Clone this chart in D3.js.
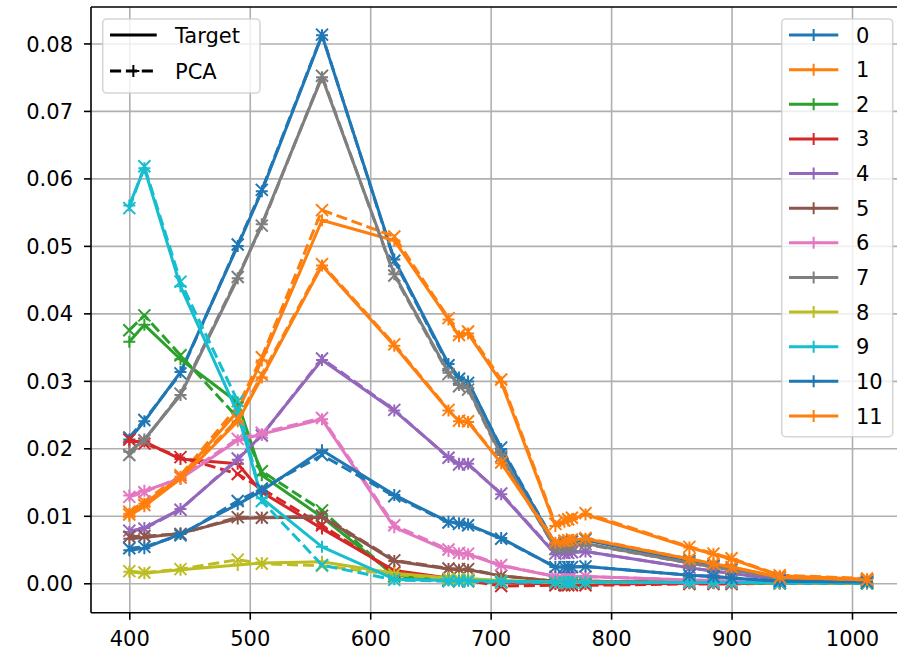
<!DOCTYPE html>
<html>
<head>
<meta charset="utf-8">
<script src="https://cdn.jsdelivr.net/npm/d3@7"></script>
<style>
  body { margin: 0; background: #fff; }
  svg { display: block; }
  text { font-family: "DejaVu Sans", sans-serif; }
</style>
</head>
<body>
<svg id="chart" width="897" height="652"></svg>
<script>
// Band centre wavelengths (nm)
const wavelengths = [400, 412.5, 442.5, 490, 510, 560, 620, 665, 673.75, 681.25, 708.75,
                     753.75, 761.25, 764.375, 767.5, 778.75, 865, 885, 900, 940, 1012.5];

const seriesLabels = ["0", "1", "2", "3", "4", "5", "6", "7", "8", "9", "10", "11"];
const seriesColors = ["#1f77b4", "#ff7f0e", "#2ca02c", "#d62728", "#9467bd", "#8c564b",
                      "#e377c2", "#7f7f7f", "#bcbd22", "#17becf", "#1f77b4", "#ff7f0e"];

const xTicks = [400, 500, 600, 700, 800, 900, 1000];
const yTicks = [0.00, 0.01, 0.02, 0.03, 0.04, 0.05, 0.06, 0.07, 0.08];

// Target spectra
const target0  = [0.0213, 0.0240, 0.0313, 0.0500, 0.0581, 0.0812, 0.0480, 0.0325, 0.0305, 0.0299, 0.0199, 0.0057, 0.0059, 0.0060, 0.0061, 0.0064, 0.0033, 0.0026, 0.0021, 0.0009, 0.0005];
const target1  = [0.0103, 0.0118, 0.0158, 0.0255, 0.0330, 0.0538, 0.0508, 0.0391, 0.0366, 0.0370, 0.0298, 0.0085, 0.0091, 0.0093, 0.0095, 0.0102, 0.0053, 0.0043, 0.0036, 0.0011, 0.0006];
const target2  = [0.0358, 0.0383, 0.0332, 0.0268, 0.0160, 0.0098, 0.0012, 0.0005, 0.0004, 0.0004, 0.0002, 0.0001, 0.0001, 0.0001, 0.0001, 0.0001, 0.0001, 0.0001, 0.0001, 0.0000, 0.0000];
const target3  = [0.0210, 0.0210, 0.0184, 0.0177, 0.0135, 0.0081, 0.0019, 0.0008, 0.0006, 0.0006, 0.0001, -0.0001, -0.0001, -0.0001, -0.0001, -0.0001, 0.0000, 0.0000, 0.0000, 0.0000, 0.0000];
const target4  = [0.0076, 0.0082, 0.0110, 0.0183, 0.0220, 0.0331, 0.0256, 0.0187, 0.0177, 0.0177, 0.0132, 0.0043, 0.0044, 0.0045, 0.0046, 0.0047, 0.0023, 0.0018, 0.0015, 0.0005, 0.0003];
const target5  = [0.0066, 0.0068, 0.0074, 0.0096, 0.0097, 0.0098, 0.0033, 0.0021, 0.0020, 0.0020, 0.0011, 0.0003, 0.0003, 0.0003, 0.0003, 0.0003, 0.0002, 0.0002, 0.0001, 0.0000, 0.0000];
const target6  = [0.0130, 0.0137, 0.0155, 0.0212, 0.0221, 0.0243, 0.0083, 0.0048, 0.0044, 0.0043, 0.0026, 0.0010, 0.0010, 0.0010, 0.0010, 0.0010, 0.0005, 0.0004, 0.0003, 0.0001, 0.0001];
const target7  = [0.0195, 0.0213, 0.0279, 0.0452, 0.0532, 0.0750, 0.0458, 0.0312, 0.0294, 0.0289, 0.0190, 0.0052, 0.0054, 0.0055, 0.0056, 0.0059, 0.0030, 0.0024, 0.0020, 0.0008, 0.0004];
const target8  = [0.0017, 0.0015, 0.0020, 0.0027, 0.0030, 0.0032, 0.0015, 0.0008, 0.0007, 0.0007, 0.0004, 0.0002, 0.0002, 0.0002, 0.0002, 0.0002, 0.0001, 0.0001, 0.0001, 0.0001, 0.0001];
const target9  = [0.0560, 0.0615, 0.0440, 0.0252, 0.0126, 0.0054, 0.0006, 0.0004, 0.0004, 0.0004, 0.0003, 0.0002, 0.0002, 0.0002, 0.0002, 0.0002, 0.0001, 0.0001, 0.0001, 0.0001, 0.0001];
const target10 = [0.0049, 0.0052, 0.0073, 0.0117, 0.0137, 0.0197, 0.0131, 0.0091, 0.0089, 0.0087, 0.0067, 0.0024, 0.0024, 0.0024, 0.0024, 0.0025, 0.0012, 0.0010, 0.0008, 0.0003, 0.0002];
const target11 = [0.0100, 0.0114, 0.0155, 0.0240, 0.0305, 0.0471, 0.0352, 0.0256, 0.0240, 0.0239, 0.0178, 0.0060, 0.0062, 0.0063, 0.0064, 0.0066, 0.0036, 0.0029, 0.0024, 0.0009, 0.0005];

// PCA reconstructions
const pca0  = [0.0216, 0.0242, 0.0311, 0.0502, 0.0583, 0.0813, 0.0478, 0.0323, 0.0303, 0.0297, 0.0201, 0.0058, 0.0060, 0.0060, 0.0062, 0.0065, 0.0033, 0.0026, 0.0021, 0.0009, 0.0005];
const pca1  = [0.0106, 0.0121, 0.0160, 0.0262, 0.0335, 0.0553, 0.0514, 0.0393, 0.0368, 0.0373, 0.0302, 0.0088, 0.0093, 0.0095, 0.0097, 0.0104, 0.0054, 0.0044, 0.0037, 0.0012, 0.0007];
const pca2  = [0.0375, 0.0397, 0.0338, 0.0245, 0.0166, 0.0108, 0.0010, 0.0004, 0.0003, 0.0003, 0.0001, 0.0000, 0.0000, 0.0000, 0.0000, 0.0000, 0.0001, 0.0001, 0.0001, 0.0000, 0.0000];
const pca3  = [0.0213, 0.0207, 0.0187, 0.0162, 0.0140, 0.0086, 0.0016, 0.0005, 0.0004, 0.0004, -0.0004, -0.0003, -0.0003, -0.0003, -0.0003, -0.0003, -0.0001, -0.0001, -0.0001, 0.0000, 0.0000];
const pca4  = [0.0078, 0.0081, 0.0109, 0.0185, 0.0219, 0.0333, 0.0257, 0.0186, 0.0176, 0.0176, 0.0133, 0.0044, 0.0045, 0.0045, 0.0046, 0.0047, 0.0023, 0.0018, 0.0015, 0.0005, 0.0003];
const pca5  = [0.0069, 0.0070, 0.0073, 0.0098, 0.0097, 0.0100, 0.0034, 0.0022, 0.0021, 0.0021, 0.0011, 0.0003, 0.0003, 0.0003, 0.0003, 0.0003, 0.0002, 0.0002, 0.0001, 0.0000, 0.0000];
const pca6  = [0.0128, 0.0135, 0.0157, 0.0214, 0.0223, 0.0245, 0.0086, 0.0050, 0.0045, 0.0044, 0.0027, 0.0010, 0.0010, 0.0010, 0.0010, 0.0010, 0.0005, 0.0004, 0.0003, 0.0001, 0.0001];
const pca7  = [0.0190, 0.0212, 0.0281, 0.0454, 0.0530, 0.0752, 0.0456, 0.0310, 0.0292, 0.0287, 0.0188, 0.0051, 0.0053, 0.0054, 0.0055, 0.0058, 0.0030, 0.0024, 0.0020, 0.0008, 0.0004];
const pca8  = [0.0018, 0.0016, 0.0021, 0.0035, 0.0029, 0.0026, 0.0013, 0.0007, 0.0006, 0.0006, 0.0003, 0.0001, 0.0001, 0.0001, 0.0001, 0.0001, 0.0001, 0.0001, 0.0001, 0.0000, 0.0000];
const pca9  = [0.0556, 0.0618, 0.0447, 0.0270, 0.0122, 0.0027, 0.0005, 0.0003, 0.0003, 0.0003, 0.0002, 0.0001, 0.0001, 0.0001, 0.0001, 0.0001, 0.0001, 0.0001, 0.0001, 0.0000, 0.0000];
const pca10 = [0.0052, 0.0054, 0.0071, 0.0122, 0.0140, 0.0190, 0.0129, 0.0090, 0.0088, 0.0086, 0.0066, 0.0024, 0.0024, 0.0024, 0.0024, 0.0025, 0.0012, 0.0010, 0.0008, 0.0003, 0.0002];
const pca11 = [0.0102, 0.0116, 0.0157, 0.0243, 0.0309, 0.0473, 0.0354, 0.0257, 0.0241, 0.0240, 0.0179, 0.0061, 0.0063, 0.0064, 0.0065, 0.0067, 0.0036, 0.0029, 0.0024, 0.0009, 0.0005];

const targets = [target0, target1, target2, target3, target4, target5, target6, target7, target8, target9, target10, target11];
const pcas = [pca0, pca1, pca2, pca3, pca4, pca5, pca6, pca7, pca8, pca9, pca10, pca11];

// Layout
const plotLeft = 91, plotRight = 905, plotTop = 7, plotBottom = 612.7;
const lineWidth = 3, markerHalf = 6, markerStroke = 2;
const dashPattern = "11.1,4.8";
const fontSize = 21;

const svg = d3.select("#chart");

const x = d3.scaleLinear().domain([368.2, 1044]).range([plotLeft, plotRight]);
const y = d3.scaleLinear().domain([-0.00436, 0.0854]).range([plotBottom, plotTop]);

svg.append("defs").append("clipPath").attr("id", "plot-clip")
  .append("rect")
  .attr("x", plotLeft).attr("y", plotTop)
  .attr("width", plotRight - plotLeft).attr("height", plotBottom - plotTop);

// Grid
const grid = svg.append("g").attr("class", "grid");
grid.append("g")
  .attr("transform", `translate(0,${plotBottom})`)
  .call(d3.axisBottom(x).tickValues(xTicks).tickSize(-(plotBottom - plotTop)).tickFormat(""))
  .call(g => g.select(".domain").remove());
grid.append("g")
  .attr("transform", `translate(${plotLeft},0)`)
  .call(d3.axisLeft(y).tickValues(yTicks).tickSize(-(plotRight - plotLeft)).tickFormat(""))
  .call(g => g.select(".domain").remove());
grid.selectAll("line").attr("stroke", "#b0b0b0").attr("stroke-width", 1.6);

// Marker shapes
const plusPath = `M${-markerHalf},0H${markerHalf}M0,${-markerHalf}V${markerHalf}`;
const crossPath = `M${-markerHalf},${-markerHalf}L${markerHalf},${markerHalf}M${-markerHalf},${markerHalf}L${markerHalf},${-markerHalf}`;

const line = d3.line().x(d => x(d[0])).y(d => y(d[1]));
const data = svg.append("g").attr("clip-path", "url(#plot-clip)");

function drawSeries(values, color, dashed, markerPath) {
  const pts = wavelengths.map((w, i) => [w, values[i]]);
  const g = data.append("g");
  g.append("path")
    .attr("d", line(pts))
    .attr("fill", "none")
    .attr("stroke", color)
    .attr("stroke-width", lineWidth)
    .attr("stroke-linejoin", "round")
    .attr("stroke-dasharray", dashed ? dashPattern : null);
  g.selectAll("path.marker")
    .data(pts)
    .join("path")
    .attr("class", "marker")
    .attr("transform", d => `translate(${x(d[0])},${y(d[1])})`)
    .attr("d", markerPath)
    .attr("fill", "none")
    .attr("stroke", color)
    .attr("stroke-width", markerStroke);
}

targets.forEach((t, i) => {
  drawSeries(t, seriesColors[i], false, plusPath);
  drawSeries(pcas[i], seriesColors[i], true, crossPath);
});

// Axes
const xAxis = svg.append("g")
  .attr("transform", `translate(0,${plotBottom})`)
  .call(d3.axisBottom(x).tickValues(xTicks).tickSize(7).tickPadding(12).tickFormat(d3.format("d")));
const yAxis = svg.append("g")
  .attr("transform", `translate(${plotLeft},0)`)
  .call(d3.axisLeft(y).tickValues(yTicks).tickSize(7).tickPadding(11).tickFormat(d3.format(".2f")));
[xAxis, yAxis].forEach(a => {
  a.select(".domain").remove();
  a.selectAll("line").attr("stroke", "#000").attr("stroke-width", 1.6);
  a.selectAll("text").attr("font-size", fontSize).attr("fill", "#000")
    .attr("font-family", "'DejaVu Sans', sans-serif");
});
yAxis.selectAll("text").attr("dy", "0.36em");
xAxis.selectAll("text").attr("dy", "0.68em");

// Spines
const spines = svg.append("g").attr("stroke", "#000").attr("stroke-width", 1.6).attr("fill", "none");
spines.append("line").attr("x1", plotLeft).attr("x2", plotLeft).attr("y1", plotTop).attr("y2", plotBottom);
spines.append("line").attr("x1", plotLeft).attr("x2", plotRight).attr("y1", plotTop).attr("y2", plotTop);
spines.append("line").attr("x1", plotLeft).attr("x2", plotRight).attr("y1", plotBottom).attr("y2", plotBottom);
spines.append("line").attr("x1", plotRight).attr("x2", plotRight).attr("y1", plotTop).attr("y2", plotBottom);

// Legends
function legendFrame(x0, y0, x1, y1) {
  svg.append("rect")
    .attr("x", x0).attr("y", y0)
    .attr("width", x1 - x0).attr("height", y1 - y0)
    .attr("rx", 4).attr("ry", 4)
    .attr("fill", "#fff").attr("fill-opacity", 0.8)
    .attr("stroke", "#cccccc").attr("stroke-opacity", 0.8).attr("stroke-width", 1.6);
}

function legendEntry(cx0, cx1, cy, color, dashed, markerPath, label, textX) {
  const g = svg.append("g");
  g.append("line")
    .attr("x1", cx0).attr("x2", cx1).attr("y1", cy).attr("y2", cy)
    .attr("stroke", color).attr("stroke-width", lineWidth)
    .attr("stroke-dasharray", dashed ? dashPattern : null);
  if (markerPath) {
    g.append("path")
      .attr("transform", `translate(${(cx0 + cx1) / 2},${cy})`)
      .attr("d", markerPath)
      .attr("fill", "none").attr("stroke", color).attr("stroke-width", markerStroke);
  }
  g.append("text")
    .attr("x", textX).attr("y", cy).attr("dy", "0.36em")
    .attr("font-size", fontSize).attr("fill", "#000")
    .text(label);
}

// Line-style legend
const styleLabels = ["Target", "PCA"];
legendFrame(102.7, 19, 260, 93);
legendEntry(110, 156.7, 35, "#000", false, null, styleLabels[0], 175);
legendEntry(110, 156.7, 71, "#000", true, plusPath, styleLabels[1], 175);

// Series legend
const seriesRowStep = (416 - 35) / 11;
legendFrame(781.7, 19, 892.7, 436.7);
seriesLabels.forEach((lab, i) => {
  legendEntry(789, 838.3, 35 + i * seriesRowStep, seriesColors[i], false, plusPath, lab, 856);
});
</script>
</body>
</html>
